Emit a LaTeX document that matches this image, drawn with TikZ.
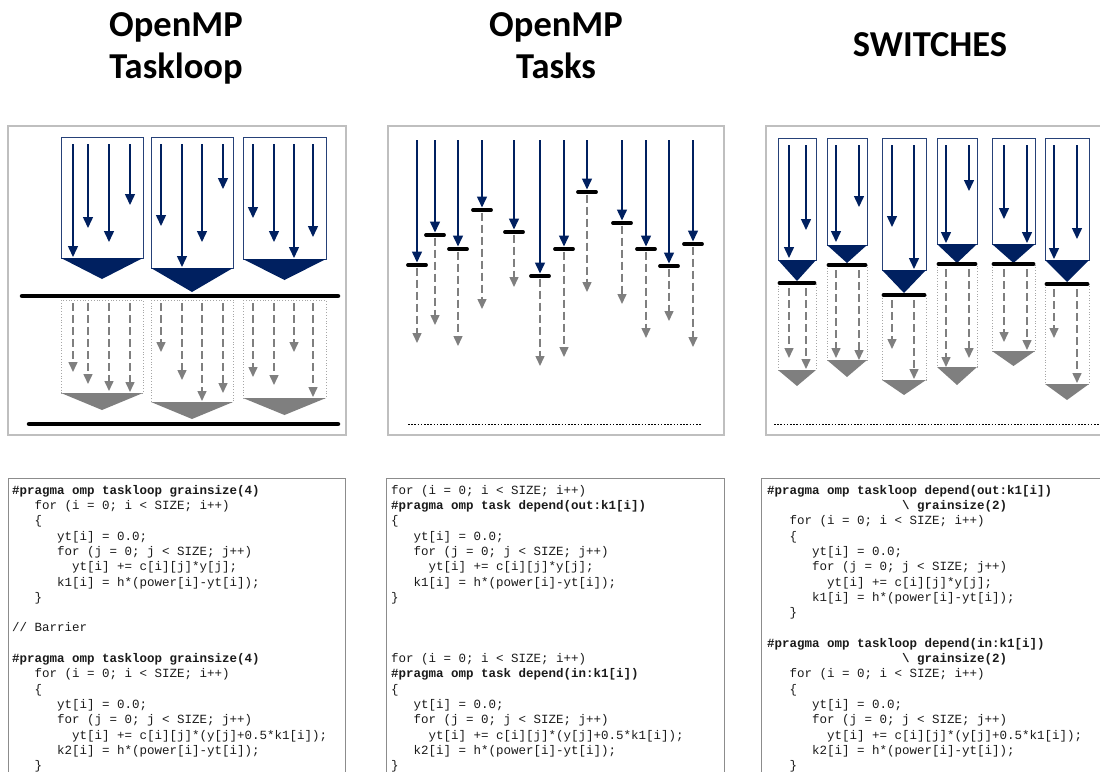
\documentclass[tikz,border=0pt]{standalone}
\usepackage{fontspec}
\setmainfont{Carlito}
\setmonofont{Liberation Mono}
\usetikzlibrary{arrows.meta}
\definecolor{navy}{HTML}{002060}
\definecolor{ghostgrey}{HTML}{7F7F7F}
\definecolor{framegrey}{HTML}{BFBFBF}
\definecolor{dotgrey}{HTML}{A6A6A6}
\definecolor{codegrey}{HTML}{8C8C8C}
\definecolor{codeink}{HTML}{1A1A1A}

\begin{document}
\begin{tikzpicture}[x=1pt,y=-1pt,
  title/.style={font=\fontsize{36.5}{42}\selectfont\bfseries, align=center, inner sep=0pt},
  panel/.style={draw=framegrey, line width=1.2pt},
  codebox/.style={draw=codegrey, line width=1pt},
  code/.style={font=\ttfamily\fontsize{12.5}{15.3}\selectfont, text=codeink, align=left, anchor=north west, inner sep=0pt},
  work/.style={draw=navy, line width=1.5pt, -{Triangle[length=11pt,width=10pt]}},
  pending/.style={draw=ghostgrey, line width=1.5pt, dash pattern=on 8pt off 4pt, -{Triangle[length=10pt,width=9pt]}},
  chunk/.style={draw=navy!85!white, line width=0.9pt},
  ghostchunk/.style={draw=dotgrey, line width=0.8pt, dotted},
  barrier/.style={line width=4.5pt, line cap=round},
  sync/.style={line width=3.8pt, line cap=round},
  endline/.style={line width=1pt, dash pattern=on 1.6pt off 1.6pt},
]
\useasboundingbox (0,0) rectangle (1100,771);
\clip (0,0) rectangle (1100,771);

% ---------- titles ----------
\node[title, anchor=north] (t1) at (176,12) {OpenMP\\Taskloop};
\node[title, anchor=north] (t2) at (556,12) {OpenMP\\Tasks};
\node[title, anchor=base] (t3) at (930,56) {SWITCHES};

% ---------- panel frames ----------
\draw[panel] (8,126) rectangle (346,435);
\draw[panel] (388,126) rectangle (724,435);
\draw[panel] (766,126) rectangle (1110,435);

% ---------- taskloop: two phases separated by barriers ----------
\foreach \l/\r/\b/\a in {61/143/258/279, 151/233/268/292, 243/326/259/280} {
  \draw[chunk] (\l,137) rectangle (\r,\b);
  \fill[navy] (\l,\b) -- (\r,\b) -- ({(\l+\r)/2},\a) -- cycle;
}
\foreach \x/\e in {73/257, 88/228, 109/242, 130/205,
                   161/226, 182/267, 202/242, 223/189,
                   253/218, 274/242, 294/258, 313/237}
  \draw[work] (\x,144) -- (\x,\e);
\draw[barrier] (22,296) -- (338,296);

\foreach \l/\r/\b/\a in {61/143/393/410, 151/233/402/419, 243/326/398/415} {
  \draw[ghostchunk] (\l,300) rectangle (\r,\b);
  \fill[ghostgrey] (\l,\b) -- (\r,\b) -- ({(\l+\r)/2},\a) -- cycle;
}
\foreach \x/\e in {73/372, 88/384, 109/391, 130/392,
                   161/352, 182/380, 202/401, 223/393,
                   253/377, 274/385, 294/352, 313/397}
  \draw[pending] (\x,303) -- (\x,\e);
\draw[barrier] (29,424) -- (338,424);

% ---------- tasks: one dependency point per task ----------
\foreach \x/\b/\e in {417/265/343, 435/235/325, 458/249/346, 482/210/309,
                      514/232/287, 540/276/366, 564/249/357, 587/192/292,
                      622/223/304, 646/249/338, 669/266/321, 693/244/347} {
  \draw[work] (\x,140) -- (\x,\b-2.5);
  \draw[sync] (\x-9,\b) -- (\x+9,\b);
  \draw[pending] (\x,\b+2.5) -- (\x,\e);
}
\draw[endline] (408,424) -- (702,424);

% ---------- switches: chunks chained by dependences ----------
\foreach \l/\r/\b/\a/\s/\lb/\la in {778/816/260/281/283/370/386,
                                    827/867/245/263/265/360/377,
                                    882/926/270/293/295/380/395,
                                    937/977/244/263/264/367/385,
                                    992/1035/244/263/264/351/366,
                                    1045/1089/260/282/284/384/400} {
  \draw[chunk] (\l,138) rectangle (\r,\b);
  \fill[navy] (\l,\b) -- (\r,\b) -- ({(\l+\r)/2},\a) -- cycle;
  \draw[ghostchunk] (\l,\s) -- (\l,\lb) -- (\r,\lb) -- (\r,\s);
  \fill[ghostgrey] (\l,\lb) -- (\r,\lb) -- ({(\l+\r)/2},\la) -- cycle;
  \draw[sync] (\l+1.5,\s) -- (\r-1.5,\s);
}
\foreach \x/\e in {789/258, 806/230, 836/242, 859/207, 892/227, 914/269,
                   946/243, 969/191, 1004/219, 1027/243, 1054/259, 1077/239}
  \draw[work] (\x,145) -- (\x,\e);
\foreach \x/\s/\e in {789/288/358, 806/288/369, 836/270/358, 859/270/360,
                      892/300/349, 914/300/379, 946/269/367, 969/269/358,
                      1004/269/342, 1027/269/350, 1054/289/338, 1077/289/383}
  \draw[pending] (\x,\s) -- (\x,\e);
\draw[endline] (774,424) -- (1100,424);

% ---------- code listings ----------
\draw[codebox] (8,478) rectangle (345,790);
\draw[codebox] (386,478) rectangle (724,790);
\draw[codebox] (761,478) rectangle (1110,790);

\node[code] (c1) at (12,483) {\rule{0pt}{11pt}\textbf{\#pragma omp taskloop grainsize(4)}\\
~~~for (i = 0; i < SIZE; i++)\\
~~~\{\\
~~~~~~yt[i] = 0.0;\\
~~~~~~for (j = 0; j < SIZE; j++)\\
~~~~~~~~yt[i] += c[i][j]*y[j];\\
~~~~~~k1[i] = h*(power[i]-yt[i]);\\
~~~\}\\
\mbox{}\\
// Barrier\\
\mbox{}\\
\textbf{\#pragma omp taskloop grainsize(4)}\\
~~~for (i = 0; i < SIZE; i++)\\
~~~\{\\
~~~~~~yt[i] = 0.0;\\
~~~~~~for (j = 0; j < SIZE; j++)\\
~~~~~~~~yt[i] += c[i][j]*(y[j]+0.5*k1[i]);\\
~~~~~~k2[i] = h*(power[i]-yt[i]);\\
~~~\}};

\node[code] (c2) at (391,483) {\rule{0pt}{11pt}for (i = 0; i < SIZE; i++)\\
\textbf{\#pragma omp task depend(out:k1[i])}\\
\{\\
~~~yt[i] = 0.0;\\
~~~for (j = 0; j < SIZE; j++)\\
~~~~~yt[i] += c[i][j]*y[j];\\
~~~k1[i] = h*(power[i]-yt[i]);\\
\}\\
\mbox{}\\
\mbox{}\\
\mbox{}\\
for (i = 0; i < SIZE; i++)\\
\textbf{\#pragma omp task depend(in:k1[i])}\\
\{\\
~~~yt[i] = 0.0;\\
~~~for (j = 0; j < SIZE; j++)\\
~~~~~yt[i] += c[i][j]*(y[j]+0.5*k1[i]);\\
~~~k2[i] = h*(power[i]-yt[i]);\\
\}};

\node[code] (c3) at (767,483) {\rule{0pt}{11pt}\textbf{\#pragma omp taskloop depend(out:k1[i])}\\
\textbf{~~~~~~~~~~~~~~~~~~\textbackslash{} grainsize(2)}\\
~~~for (i = 0; i < SIZE; i++)\\
~~~\{\\
~~~~~~yt[i] = 0.0;\\
~~~~~~for (j = 0; j < SIZE; j++)\\
~~~~~~~~yt[i] += c[i][j]*y[j];\\
~~~~~~k1[i] = h*(power[i]-yt[i]);\\
~~~\}\\
\mbox{}\\
\textbf{\#pragma omp taskloop depend(in:k1[i])}\\
\textbf{~~~~~~~~~~~~~~~~~~\textbackslash{} grainsize(2)}\\
~~~for (i = 0; i < SIZE; i++)\\
~~~\{\\
~~~~~~yt[i] = 0.0;\\
~~~~~~for (j = 0; j < SIZE; j++)\\
~~~~~~~~yt[i] += c[i][j]*(y[j]+0.5*k1[i]);\\
~~~~~~k2[i] = h*(power[i]-yt[i]);\\
~~~\}};
\end{tikzpicture}
\end{document}
